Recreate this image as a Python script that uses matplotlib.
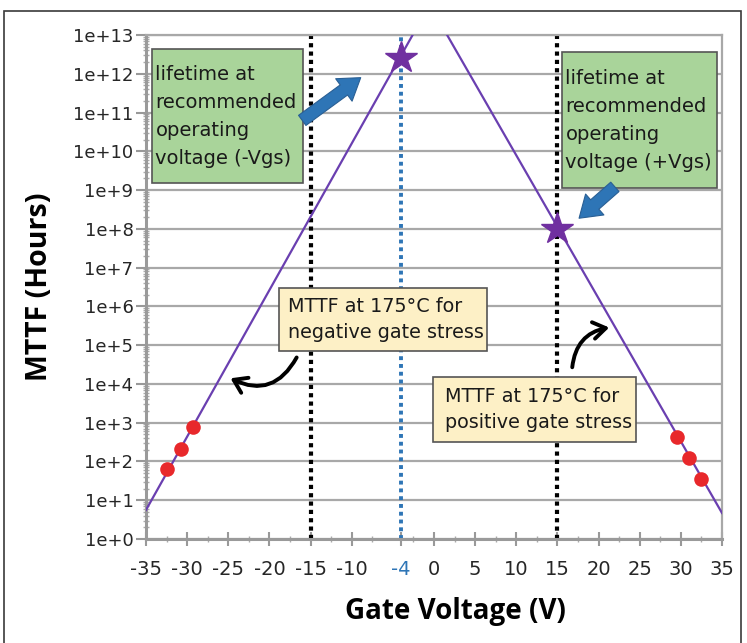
import matplotlib
matplotlib.use('Agg')
import matplotlib.pyplot as plt
from matplotlib.patches import Rectangle, FancyArrowPatch
import numpy as np

plt.rcParams['font.family'] = ['DejaVu Sans']

# MTTF fit lines (gate voltage in V, MTTF in hours)
neg_fit_v = [-35, -2.6]
neg_fit_mttf = [5.6, 1e13]
pos_fit_v = [1.6, 35]
pos_fit_mttf = [1e13, 4.7]

# measured points at 175 C
neg_meas_v = [-32.4, -30.8, -29.25]
neg_meas_mttf = [63, 205, 760]
pos_meas_v = [29.5, 31.0, 32.4]
pos_meas_mttf = [436, 123, 36]

# lifetime at recommended operating voltage
op_v = [-4, 15]
op_mttf = [2.5e12, 1.0e8]

# reference voltages
neg_limit_v = -15
pos_limit_v = 15

x_ticks = [-35, -30, -25, -20, -15, -10, -4, 0, 5, 10, 15, 20, 25, 30, 35]
y_exponents = list(range(0, 14))

purple = '#6a3fb0'
blue = '#2e75b6'

fig = plt.figure(figsize=(7.47, 6.43), dpi=100)
ax = fig.add_axes([0.1954, 0.1617, 0.7711, 0.7838])

ax.set_yscale('log')
ax.set_xlim(-35, 35)
ax.set_ylim(1, 1e13)

ax.yaxis.grid(True, which='major', color='#a8a8a8', lw=1.6)
ax.set_axisbelow(True)

ax.axvline(neg_limit_v, color='black', lw=3, ls=(0, (1, 1)), zorder=2)
ax.axvline(pos_limit_v, color='black', lw=3, ls=(0, (1, 1)), zorder=2)
ax.axvline(op_v[0], color=blue, lw=2.8, ls=(0, (1, 1)), zorder=2)

ax.plot(neg_fit_v, neg_fit_mttf, color=purple, lw=1.6, zorder=3)
ax.plot(pos_fit_v, pos_fit_mttf, color=purple, lw=1.6, zorder=3)
ax.plot(neg_meas_v, neg_meas_mttf, 'o', color='#e8282b', ms=10.5, mec='none', zorder=4)
ax.plot(pos_meas_v, pos_meas_mttf, 'o', color='#e8282b', ms=10.5, mec='none', zorder=4)
ax.plot(op_v, op_mttf, '*', color='#7030a0', ms=24, mec='#7030a0', zorder=5)

ax.set_xticks(x_ticks)
ax.set_xticklabels([str(v) for v in x_ticks])
ax.set_xticks(np.arange(-32.5, 35, 5), minor=True)
ax.set_yticks([10.0 ** e for e in y_exponents])
ax.set_yticklabels(['1e+%d' % e for e in y_exponents])
ax.yaxis.set_minor_locator(matplotlib.ticker.LogLocator(base=10, subs=np.arange(2, 10), numticks=20))
ax.yaxis.set_minor_formatter(matplotlib.ticker.NullFormatter())

ax.tick_params(axis='both', which='major', labelsize=13, colors='#999999', labelcolor='#262626',
               width=1.5)
ax.tick_params(axis='x', which='major', direction='inout', length=10, pad=10, labelsize=14)
ax.tick_params(axis='y', which='major', direction='out', length=7, pad=2)
ax.tick_params(axis='both', which='minor', colors='#aaaaaa', direction='inout', length=5, width=1)
for lbl in ax.get_xticklabels():
    if lbl.get_text() == '-4':
        lbl.set_color(blue)

for side in ['left', 'bottom']:
    ax.spines[side].set_color('#9a9a9a')
    ax.spines[side].set_linewidth(2.2)
for side in ['top', 'right']:
    ax.spines[side].set_color('#a8a8a8')
    ax.spines[side].set_linewidth(1.6)

fig.text(40 / 747, 1 - 287 / 643, 'MTTF (Hours)', rotation=90, ha='center', va='center',
         fontsize=20.5, fontweight='bold', color='black', family='Open Sans')
fig.text(455 / 747, 1 - 611 / 643, 'Gate Voltage (V)', ha='center', va='center',
         fontsize=20, fontweight='bold', color='black', family='Open Sans')


def note(x0, y0, x1, y1, text, face, pad, size, spacing):
    ax.add_patch(Rectangle((x0, y0), x1 - x0, y1 - y0, transform=ax.transAxes,
                           facecolor=face, edgecolor='#555555', lw=1.2, zorder=6))
    ax.text(x0 + pad, (y0 + y1) / 2, text, transform=ax.transAxes, ha='left', va='center',
            fontsize=size, color='#1a1a1a', linespacing=spacing, zorder=7)


note(0.0104, 0.7063, 0.2726, 0.9722, 'lifetime at\nrecommended\noperating\nvoltage (-Vgs)',
     '#a9d49a', 0.006, 14, 1.6)
note(0.7222, 0.6964, 0.9913, 0.9663, 'lifetime at\nrecommended\noperating\nvoltage (+Vgs)',
     '#a9d49a', 0.006, 14, 1.6)
note(0.2309, 0.3730, 0.5920, 0.4980, 'MTTF at 175°C for\nnegative gate stress',
     '#fdf0c6', 0.015, 13.8, 1.45)
note(0.4983, 0.1925, 0.8507, 0.3214, 'MTTF at 175°C for\npositive gate stress',
     '#fdf0c6', 0.020, 13.8, 1.45)

# block arrows pointing to the stars
for tail, tip in [((0.2674, 0.8274), (0.3767, 0.9187)), ((0.8177, 0.7024), (0.7483, 0.6329))]:
    ax.add_patch(FancyArrowPatch(tail, tip, transform=ax.transAxes,
                                 arrowstyle='simple,head_length=15,head_width=20,tail_width=9',
                                 facecolor=blue, edgecolor='#2a5f94', lw=0.8, zorder=8))

# curved arrows from the labels to the fit lines
ax.add_patch(FancyArrowPatch((0.2639, 0.3651), (0.1424, 0.3214), transform=ax.transAxes,
                             connectionstyle='arc3,rad=-0.5',
                             arrowstyle='->,head_length=9,head_width=6',
                             color='black', lw=2.8, zorder=8))
ax.add_patch(FancyArrowPatch((0.7396, 0.3353), (0.8090, 0.4206), transform=ax.transAxes,
                             connectionstyle='arc3,rad=-0.4',
                             arrowstyle='->,head_length=9,head_width=6',
                             color='black', lw=2.8, zorder=8))

fig.add_artist(Rectangle((4 / 747, -0.1), 737 / 747, 1.1 - 11 / 643, transform=fig.transFigure,
                         fill=False, edgecolor='#3a3a3a', lw=1.2))

fig.savefig('out.png', dpi=100)
